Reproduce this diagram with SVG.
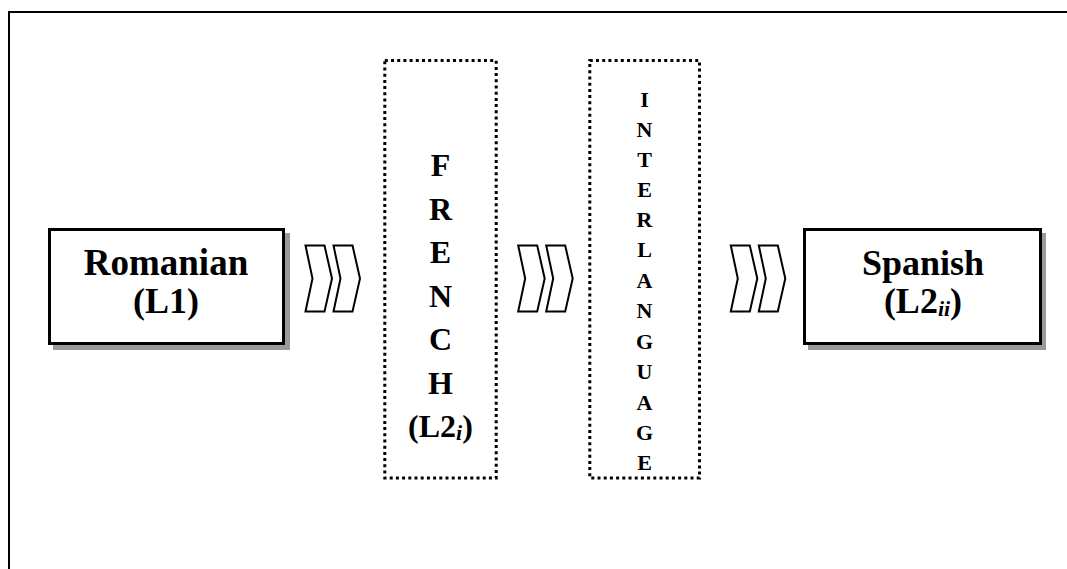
<svg xmlns="http://www.w3.org/2000/svg" width="1067" height="569" viewBox="0 0 1067 569">
  <style>
    .frame { fill: none; stroke: #000; stroke-width: 2; }
    .box { fill: #fff; stroke: #000; stroke-width: 3; }
    .shadow { fill: #9a9a9a; }
    .dotted { fill: #fff; stroke: #000; stroke-width: 3; stroke-dasharray: 3 3.2; }
    .chev { fill: #fff; stroke: #000; stroke-width: 2; stroke-linejoin: miter; }
    text { font-family: "Liberation Serif", "Times New Roman", serif; font-weight: bold; fill: #000; text-anchor: middle; }
    .big { font-size: 36px; }
    .col { font-size: 32px; }
    .small { font-size: 22px; }
    .sub { font-style: italic; font-size: 22px; }
  </style>
  <defs>
    <!-- one pair of chevrons pointing right -->
    <g id="chevrons">
      <polygon class="chev" points="0,0 19,0 26.5,33 19,66 0,66 7,33"/>
      <polygon class="chev" points="28,0 47,0 54.5,33 47,66 28,66 35,33"/>
    </g>
  </defs>

  <rect width="1067" height="569" fill="#fff"/>
  <!-- outer frame (top and left edges) -->
  <path class="frame" d="M9,569 V12 H1067"/>

  <g id="romanian">
    <rect class="shadow" x="53" y="233" width="237" height="117"/>
    <rect class="box" x="49.5" y="229.5" width="234" height="114"/>
    <text class="big" x="166" y="275" style="font-size:37px">Romanian</text>
    <text class="big" x="166" y="313">(L1)</text>
  </g>

  <g id="french">
    <rect class="dotted" x="384.8" y="60.5" width="111.4" height="417.5"/>
    <text class="col" x="440.5" y="176">F</text>
    <text class="col" x="440.5" y="219.5">R</text>
    <text class="col" x="440.5" y="263">E</text>
    <text class="col" x="440.5" y="306.5">N</text>
    <text class="col" x="440.5" y="350">C</text>
    <text class="col" x="440.5" y="393.5">H</text>
    <text class="col" x="440.5" y="437">(L2<tspan class="sub" dy="3">i</tspan><tspan dy="-3">)</tspan></text>
  </g>

  <g id="interlanguage">
    <rect class="dotted" x="589.8" y="60.5" width="109.7" height="417.5"/>
    <text class="small" x="644.5" y="107">I</text>
    <text class="small" x="644.5" y="137">N</text>
    <text class="small" x="644.5" y="167">T</text>
    <text class="small" x="644.5" y="197">E</text>
    <text class="small" x="644.5" y="227">R</text>
    <text class="small" x="644.5" y="257">L</text>
    <text class="small" x="644.5" y="287.5">A</text>
    <text class="small" x="644.5" y="318">N</text>
    <text class="small" x="644.5" y="348.5">G</text>
    <text class="small" x="644.5" y="379">U</text>
    <text class="small" x="644.5" y="409.5">A</text>
    <text class="small" x="644.5" y="440">G</text>
    <text class="small" x="644.5" y="470">E</text>
  </g>

  <g id="spanish">
    <rect class="shadow" x="808" y="233" width="238" height="117"/>
    <rect class="box" x="804.5" y="229.5" width="236" height="114"/>
    <text class="big" x="923" y="275">Spanish</text>
    <text class="big" x="923" y="313">(L2<tspan class="sub" dy="3">ii</tspan><tspan dy="-3">)</tspan></text>
  </g>

  <g id="connectors">
    <use href="#chevrons" x="305.5" y="245.5"/>
    <use href="#chevrons" x="518.2" y="245.5"/>
    <use href="#chevrons" x="730.8" y="245.5"/>
  </g>
</svg>
